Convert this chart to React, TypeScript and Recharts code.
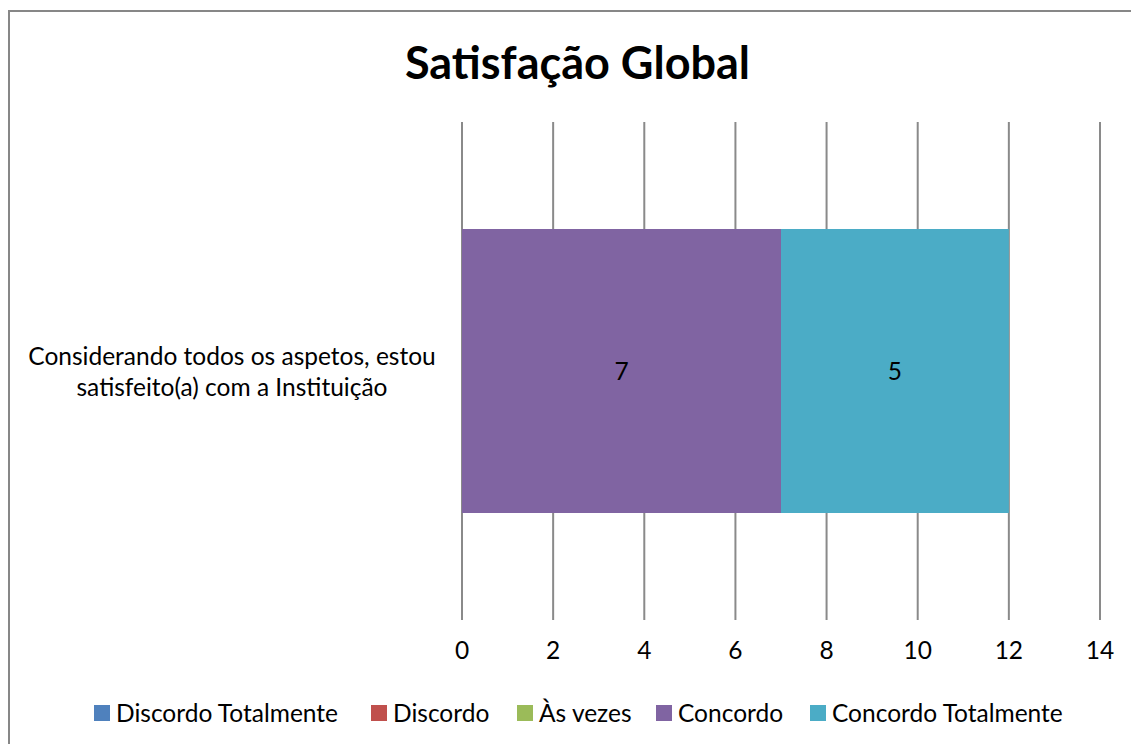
import { Bar, BarChart, CartesianGrid, LabelList, XAxis, YAxis } from "recharts"

const categories = ["Considerando todos os aspetos, estou satisfeito(a) com a Instituição"]
const categoryLines = [["Considerando todos os aspetos, estou", "satisfeito(a) com a Instituição"]]

const seriesNames = ["Discordo Totalmente", "Discordo", "Às vezes", "Concordo", "Concordo Totalmente"]
const seriesKeys = ["dt", "d", "av", "c", "ct"]
const seriesColors = ["#4F81BD", "#C0504D", "#9BBB59", "#8064A2", "#4BACC6"]

const discordoTotalmente = [0]
const discordo = [0]
const asVezes = [0]
const concordo = [7]
const concordoTotalmente = [5]

const xTicks = [0, 2, 4, 6, 8, 10, 12, 14]

const data = categories.map((name, i) => ({
  name,
  dt: discordoTotalmente[i],
  d: discordo[i],
  av: asVezes[i],
  c: concordo[i],
  ct: concordoTotalmente[i],
}))

const font = "Lato, 'Liberation Sans', sans-serif"
const fs = 24.5

function CategoryTick(props: any) {
  const { y, index } = props
  const lines = categoryLines[index] ?? [props.payload.value]
  return (
    <text x={232} y={y} textAnchor="middle" fontFamily={font} fontSize={fs} fill="#000">
      {lines.map((l, i) => (
        <tspan key={i} x={232} dy={i === 0 ? -6 : 31}>
          {l}
        </tspan>
      ))}
    </text>
  )
}

// legend drawn by hand, positions
const legendX = [94, 371, 517, 656, 810]

export default function App() {
  return (
    <div style={{ position: "absolute", left: 0, top: 0, width: 1131, height: 744, overflow: "hidden", background: "#fff" }}>
      <div
        style={{
          position: "absolute",
          left: 0,
          top: 35,
          width: 1155,
          textAlign: "center",
          fontFamily: font,
          fontWeight: 700,
          fontSize: 45,
          lineHeight: "54px",
          color: "#000",
        }}
      >
        Satisfação Global
      </div>
      <div style={{ position: "absolute", left: 0, top: 0 }}>
        <BarChart
          width={1131}
          height={744}
          data={data}
          layout="vertical"
          margin={{ top: 122, right: 31, bottom: 0, left: 0 }}
          barCategoryGap="21.5%"
        >
          <CartesianGrid horizontal={false} stroke="#8a8a8a" strokeWidth={2} />
          <XAxis
            type="number"
            domain={[0, 14]}
            ticks={xTicks}
            axisLine={false}
            tickLine={false}
            tickSize={0}
            tickMargin={22}
            height={124}
            interval={0}
            tick={{ fontFamily: font, fontSize: fs, fill: "#000" }}
          />
          <YAxis
            type="category"
            dataKey="name"
            width={462}
            axisLine={false}
            tickLine={false}
            tick={<CategoryTick />}
          />
          {seriesKeys.map((k, i) => (
            <Bar key={k} dataKey={k} name={seriesNames[i]} stackId="s" fill={seriesColors[i]} isAnimationActive={false}>
              <LabelList
                dataKey={k}
                position="center"
                formatter={(v: any) => (Number(v) > 0 ? v : "")}
                style={{ fontFamily: font, fontSize: fs, fill: "#000" }}
              />
            </Bar>
          ))}
        </BarChart>
      </div>
      <svg width={1131} height={744} style={{ position: "absolute", left: 0, top: 0, pointerEvents: "none" }}>
        {/* chart frame: only left and top edges are inside the picture */}
        <path d="M9,744 L9,11 L1131,11" fill="none" stroke="#878787" strokeWidth={2} />
        {seriesNames.map((n, i) => (
          <g key={n}>
            <rect x={legendX[i]} y={705} width={16} height={16} fill={seriesColors[i]} />
            <text x={legendX[i] + 22} y={722} fontFamily={font} fontSize={fs} fill="#000">
              {n}
            </text>
          </g>
        ))}
      </svg>
    </div>
  )
}
